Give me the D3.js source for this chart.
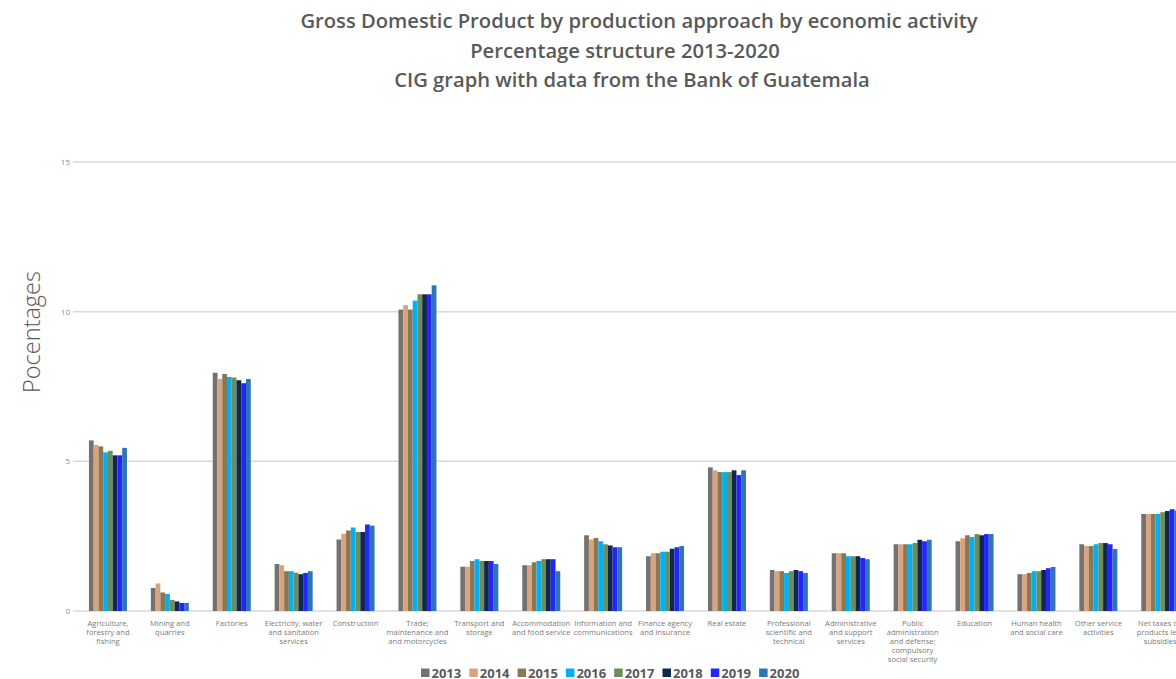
<!DOCTYPE html>
<html>
<head>
<meta charset="utf-8">
<script src="https://cdn.jsdelivr.net/npm/d3@7"></script>
<style>
  html, body { margin: 0; padding: 0; background: #ffffff; overflow: hidden; }
  svg { display: block; }
</style>
</head>
<body>
<svg id="chart" width="1176" height="679"></svg>
<script>
// ---------- DATA ----------
const titleLines = [
  "Gross Domestic Product by production approach by economic activity",
  "Percentage structure 2013-2020",
  "CIG graph with data from the Bank of Guatemala"
];
const yAxisTitle = "Pocentages";
const years = ["2013", "2014", "2015", "2016", "2017", "2018", "2019", "2020"];
const seriesColors = ["#767171", "#D8A47F", "#8B7753", "#00B0F0", "#6F8C5C", "#10294A", "#2424FF", "#2E75B6"];
const categories = [
  ["Agriculture,", "forestry and", "fishing"],
  ["Mining and", "quarries"],
  ["Factories"],
  ["Electricity, water", "and sanitation", "services"],
  ["Construction"],
  ["Trade;", "maintenance and", "and motorcycles"],
  ["Transport and", "storage"],
  ["Accommodation", "and food service"],
  ["Information and", "communications"],
  ["Finance agency", "and insurance"],
  ["Real estate"],
  ["Professional", "scientific and", "technical"],
  ["Administrative", "and support", "services"],
  ["Public", "administration", "and defense;", "compulsory", "social security"],
  ["Education"],
  ["Human health", "and social care"],
  ["Other service", "activities"],
  ["Net taxes on", "products less", "subsidies"]
];
// values per category, one array per year 2013..2020
const v2013 = [5.70, 0.77, 7.96, 1.57, 2.39, 10.07, 1.48, 1.53, 2.53, 1.83, 4.80, 1.37, 1.93, 2.23, 2.33, 1.23, 2.23, 3.24];
const v2014 = [5.55, 0.92, 7.75, 1.53, 2.58, 10.22, 1.48, 1.53, 2.39, 1.93, 4.70, 1.33, 1.93, 2.23, 2.43, 1.23, 2.17, 3.24];
const v2015 = [5.50, 0.62, 7.92, 1.33, 2.69, 10.07, 1.67, 1.63, 2.44, 1.93, 4.64, 1.33, 1.93, 2.23, 2.53, 1.27, 2.17, 3.24];
const v2016 = [5.30, 0.57, 7.82, 1.33, 2.79, 10.37, 1.73, 1.67, 2.33, 1.98, 4.64, 1.27, 1.83, 2.23, 2.47, 1.33, 2.23, 3.24];
const v2017 = [5.35, 0.37, 7.80, 1.28, 2.64, 10.58, 1.67, 1.73, 2.23, 1.98, 4.64, 1.33, 1.83, 2.27, 2.57, 1.33, 2.27, 3.30];
const v2018 = [5.20, 0.32, 7.71, 1.23, 2.64, 10.58, 1.67, 1.73, 2.19, 2.08, 4.70, 1.37, 1.83, 2.38, 2.53, 1.37, 2.27, 3.34];
const v2019 = [5.20, 0.27, 7.61, 1.27, 2.89, 10.58, 1.67, 1.73, 2.13, 2.13, 4.54, 1.33, 1.77, 2.33, 2.57, 1.43, 2.23, 3.40];
const v2020 = [5.45, 0.27, 7.75, 1.33, 2.85, 10.88, 1.57, 1.33, 2.13, 2.17, 4.70, 1.27, 1.73, 2.38, 2.57, 1.47, 2.07, 3.36];
const seriesValues = [v2013, v2014, v2015, v2016, v2017, v2018, v2019, v2020];
const yTicks = [0, 5, 10, 15];

// ---------- LAYOUT ----------
const W = 1176, H = 679;
const plotLeft = 77, plotRight = 1191.2, plotTop = 162, plotBottom = 611;
const titleCenters = [639, 625, 632];
const svg = d3.select("#chart");
const fontMain = "'Open Sans', 'DejaVu Sans', sans-serif";
const textGray = "#595959";

const table = categories.map((c, i) => ({
  key: i, label: c,
  values: years.map((yr, j) => ({ year: yr, idx: j, value: seriesValues[j][i] }))
}));

const x0 = d3.scaleBand()
  .domain(table.map(d => d.key))
  .range([plotLeft, plotRight])
  .paddingInner(0.386)
  .paddingOuter(0.193);
const x1 = d3.scaleBand()
  .domain(years)
  .range([0, x0.bandwidth()])
  .padding(0);
const y = d3.scaleLinear().domain([0, 15]).range([plotBottom, plotTop]);

// Gridlines + y axis
const yAxis = d3.axisLeft(y).tickValues(yTicks).tickSize(0).tickPadding(0).tickFormat(d3.format("d"));
const yg = svg.append("g").attr("transform", `translate(${plotLeft - 4},0)`).call(yAxis);
yg.select(".domain").remove();
yg.selectAll("text")
  .attr("x", -3)
  .attr("fill", "#8c8c8c")
  .style("font-family", fontMain)
  .style("font-size", "8px");
svg.append("g").selectAll("line")
  .data(yTicks)
  .join("line")
  .attr("x1", plotLeft - 4)
  .attr("x2", W)
  .attr("y1", d => y(d))
  .attr("y2", d => y(d))
  .attr("stroke", "#d9d9d9")
  .attr("stroke-width", 1.5);

// Bars
const groups = svg.append("g").selectAll("g")
  .data(table)
  .join("g")
  .attr("transform", d => `translate(${x0(d.key)},0)`);
groups.selectAll("rect")
  .data(d => d.values)
  .join("rect")
  .attr("x", d => x1(d.year))
  .attr("width", x1.bandwidth())
  .attr("y", d => y(d.value))
  .attr("height", d => y(0) - y(d.value))
  .attr("fill", d => seriesColors[d.idx]);

// X category labels
const xl = svg.append("g").selectAll("text")
  .data(table)
  .join("text")
  .attr("x", d => x0(d.key) + x0.bandwidth() / 2)
  .attr("y", 626)
  .attr("text-anchor", "middle")
  .attr("fill", "#7a7a7a")
  .style("font-family", fontMain)
  .style("font-size", "7.6px");
xl.selectAll("tspan")
  .data(d => d.label)
  .join("tspan")
  .attr("x", function() { return d3.select(this.parentNode).attr("x"); })
  .attr("dy", (d, i) => i === 0 ? 0 : 9.1)
  .text(d => d);

// Y axis title
svg.append("text")
  .attr("transform", `translate(40,332) rotate(-90)`)
  .attr("text-anchor", "middle")
  .attr("fill", textGray)
  .style("font-family", fontMain)
  .style("font-weight", 300)
  .style("font-size", "23.5px")
  .text(yAxisTitle);

// Title
svg.append("g").selectAll("text")
  .data(titleLines)
  .join("text")
  .attr("x", (d, i) => titleCenters[i])
  .attr("y", (d, i) => 28 + i * 29.5)
  .attr("text-anchor", "middle")
  .attr("fill", textGray)
  .style("font-family", fontMain)
  .style("font-weight", 600)
  .style("font-size", "20.2px")
  .text(d => d);

// Legend
const legendStart = 421, legendStep = 48.3, legendY = 673;
const lg = svg.append("g").selectAll("g")
  .data(years)
  .join("g")
  .attr("transform", (d, i) => `translate(${legendStart + i * legendStep},${legendY})`);
lg.append("rect")
  .attr("x", 0).attr("y", -4.5)
  .attr("width", 8.5).attr("height", 8.5)
  .attr("fill", (d, i) => seriesColors[i]);
lg.append("text")
  .attr("x", 10.5).attr("y", 4.8)
  .attr("fill", textGray)
  .style("font-family", fontMain)
  .style("font-weight", 700)
  .style("font-size", "13px")
  .text(d => d);
</script>
</body>
</html>
